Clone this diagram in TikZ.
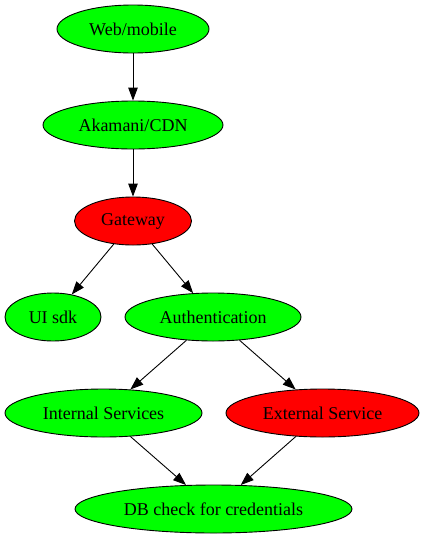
\documentclass[tikz,border=0pt]{standalone}
\usepackage{fontspec}
\setmainfont{Liberation Serif}
\usetikzlibrary{shapes.geometric,arrows.meta}
\definecolor{gvgreen}{RGB}{0,255,0}
\definecolor{gvred}{RGB}{255,0,0}
\tikzset{
  gnode/.style={ellipse, draw=black, line width=0.9pt, fill=gvgreen, inner sep=0pt,
    minimum height=48pt, font=\fontsize{18}{20}\selectfont},
  rnode/.style={gnode, fill=gvred},
  edge/.style={line width=0.9pt, -{Triangle[length=13pt,width=9.5pt]}}
}
\begin{document}
\begin{tikzpicture}[x=1pt,y=-1pt]
\useasboundingbox (0,0) rectangle (424,539);
\node[gnode, minimum width=152pt] (web) at (133,29) {Web/mobile};
\node[gnode, minimum width=180pt] (cdn) at (133,125) {Akamani/CDN};
\node[rnode, minimum width=117pt] (gw) at (133,221) {Gateway};
\node[gnode, minimum width=96pt] (ui) at (53,317) {UI sdk};
\node[gnode, minimum width=176pt] (auth) at (213,317) {Authentication};
\node[gnode, minimum width=197pt] (int) at (103.5,413) {Internal Services};
\node[rnode, minimum width=193pt] (ext) at (322.5,413) {External Service};
\node[gnode, minimum width=277pt] (db) at (213.5,509) {DB check for credentials};
\draw[edge] (web) -- (cdn);
\draw[edge] (cdn) -- (gw);
\draw[edge] (gw) -- (ui);
\draw[edge] (gw) -- (auth);
\draw[edge] (auth) -- (int);
\draw[edge] (auth) -- (ext);
\draw[edge] (int) -- (db);
\draw[edge] (ext) -- (db);
\end{tikzpicture}
\end{document}
